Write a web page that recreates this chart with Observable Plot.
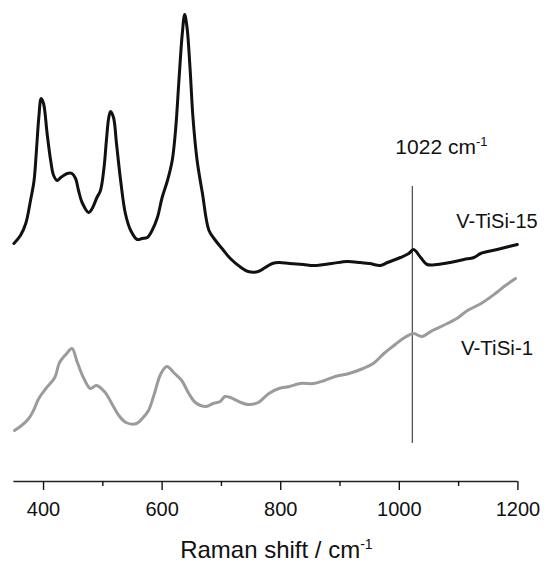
<!DOCTYPE html>
<html><head><meta charset="utf-8">
<script src="https://cdn.jsdelivr.net/npm/d3@7"></script>
<script src="https://cdn.jsdelivr.net/npm/@observablehq/plot@0.6"></script>
<style>
body{margin:0;background:#fff;}
svg{overflow:visible;background:#fff;}
</style>
</head><body><div id="chart"></div>
<script>
// V-TiSi-15 spectrum (Raman shift, cm-1 ; intensity, a.u.)
const shift15 = [350,361,370,378,384,388,392,396,400,406,412,417,423,429,440,448,454,459,465,476,482,490,496,502,506,510,513,518,523,530,538,547,558,566,575,583,592,600,609,617,623,628,634,638,642,647,652,659,668,679,690,701,715,733,745,762,774,786,797,815,838,856,886,912,934,950,968,980,1002,1016,1024,1036,1047,1064,1086,1109,1126,1137,1165,1185,1199];
const intensity15 = [238,246,258,281,301,331,364,383,378,348,321,306,301,304,308,308,303,291,279,269,273,284,291,314,341,364,370,364,338,301,268,251,242,243,244,251,264,284,301,321,354,398,448,467,454,414,364,321,288,251,241,233,223,214,210,210,214,218,219,218,217,216,218,220,219,218,216,219,224,228,232,224,217,217,219,222,224,228,232,235,237];
// V-TiSi-1 spectrum
const shift1 = [351,363,375,383,392,404,419,427,439,448,457,468,479,489,504,515,527,539,557,568,577,586,598,608,621,633,645,656,674,686,698,706,715,733,745,762,780,797,815,833,856,874,892,915,939,956,974,991,1009,1024,1038,1056,1074,1097,1115,1138,1162,1179,1196];
const intensity1 = [51,56,63,71,83,93,104,119,128,133,119,103,93,96,89,78,66,59,58,64,71,86,108,115,108,101,88,79,75,78,80,85,84,79,77,79,88,93,95,98,98,101,105,108,113,118,128,136,144,148,145,151,156,163,171,178,188,196,203];

const majorTicks = [400, 600, 800, 1000, 1200];
const minorTicks = [500, 700, 900, 1100];
const markerShift = [1022];
const seriesNames = ["V-TiSi-15", "V-TiSi-1"];
const noteText = "1022 cm";
const titleText = "Raman shift / cm";

const data15 = shift15.map((x, i) => ({x, y: intensity15[i]}));
const data1 = shift1.map((x, i) => ({x, y: intensity1[i]}));

const font = "'Liberation Sans', Arial, Helvetica, sans-serif";

const plot = Plot.plot({
  width: 547,
  height: 564,
  marginTop: 0,
  marginBottom: 83,
  marginLeft: 13.4,
  marginRight: 29.6,
  style: {fontFamily: font, color: "#111", background: "#fff"},
  x: {domain: [350, 1200], label: null},
  y: {domain: [0, 481], axis: null},
  marks: [
    Plot.ruleY([0], {stroke: "#222", strokeWidth: 1.4}),
    Plot.axisX(majorTicks, {tickSize: 9, tickPadding: 11.5, fontSize: 20, strokeWidth: 1.4, label: null, fill: "#111", tickFormat: d => String(d)}),
    Plot.axisX(minorTicks, {tickSize: 5, strokeWidth: 1.4, tickFormat: () => "", label: null}),
    Plot.ruleX(markerShift, {y1: 38, y2: 295, stroke: "#555", strokeWidth: 1.3}),
    Plot.line(data1, {x: "x", y: "y", stroke: "#9b9b9b", strokeWidth: 3, curve: "catmull-rom"}),
    Plot.line(data15, {x: "x", y: "y", stroke: "#111", strokeWidth: 3, curve: "catmull-rom"}),
    Plot.text(markerShift, {x: d => d, y: 328, text: () => noteText, textAnchor: "start", lineAnchor: "bottom", dx: -17, fontSize: 21, fill: "#111"}),
    Plot.text([seriesNames[0]], {x: 1096, y: 254, text: d => d, textAnchor: "start", lineAnchor: "bottom", fontSize: 20, fill: "#111"}),
    Plot.text([seriesNames[1]], {x: 1104, y: 127, text: d => d, textAnchor: "start", lineAnchor: "bottom", fontSize: 20.5, fill: "#111"}),
    Plot.text([titleText], {frameAnchor: "bottom", text: d => d, lineAnchor: "bottom", dy: 76, dx: 10.5, fontSize: 24, fill: "#111"})
  ]
});

function addSup(content, dy, size) {
  plot.querySelectorAll("text").forEach(t => {
    if (t.textContent === content) {
      const ts = document.createElementNS("http://www.w3.org/2000/svg", "tspan");
      ts.setAttribute("dy", dy);
      ts.setAttribute("font-size", size);
      ts.textContent = "-1";
      t.appendChild(ts);
    }
  });
}
addSup(noteText, -8, 13);
addSup(titleText, -9, 14);

document.getElementById("chart").append(plot);
</script>
</body></html>
